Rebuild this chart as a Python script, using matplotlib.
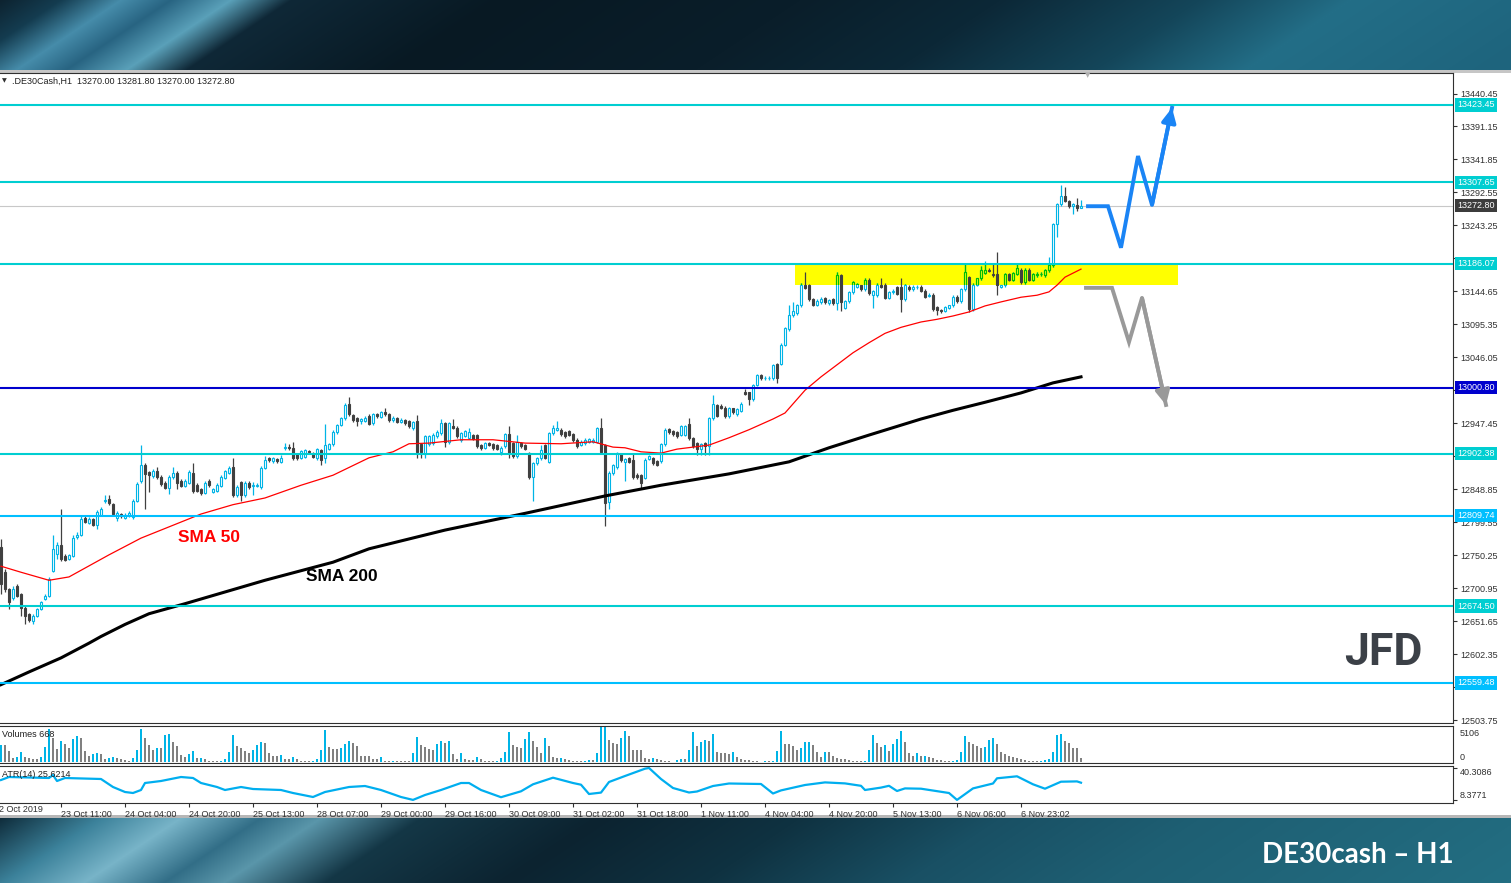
import numpy as np
import matplotlib
matplotlib.use("Agg")
import matplotlib.pyplot as plt
from matplotlib.patches import Rectangle
from matplotlib.transforms import blended_transform_factory

# ---------------- DATA ----------------
opens = [12762,12725,12700,12686,12705,12692,12672,12662,12652,12660,
12670,12685,12690,12727,12752,12766,12750,12745,12750,12777,
12781,12806,12799,12804,12795,12811,12832,12834,12827,12806,
12812,12806,12810,12807,12832,12861,12885,12875,12869,12876,
12867,12859,12851,12867,12874,12862,12854,12859,12874,12856,
12849,12844,12862,12845,12847,12854,12866,12874,12882,12840,
12860,12840,12859,12854,12854,12852,12881,12895,12891,12894,
12890,12910,12912,12910,12901,12896,12897,12906,12902,12895,
12907,12895,12909,12916,12934,12945,12955,12976,12960,12955,
12951,12951,12959,12948,12961,12957,12964,12961,12952,12955,
12950,12952,12951,12940,12951,12916,12901,12916,12918,12928,
12933,12948,12920,12944,12941,12923,12929,12926,12930,12930,
12915,12911,12918,12916,12915,12905,12913,12931,12918,12898,
12918,12915,12903,12868,12888,12895,12915,12890,12933,12938,
12938,12934,12936,12931,12923,12915,12918,12920,12920,12920,
12940,12915,12830,12873,12883,12901,12890,12895,12893,12871,
12870,12866,12894,12895,12891,12891,12916,12939,12936,12934,
12930,12930,12946,12925,12918,12909,12918,12913,12955,12975,
12973,12971,12959,12970,12961,12966,12995,12994,12984,13005,
13020,13015,13015,13015,13036,13036,13065,13089,13109,13112,
13124,13155,13154,13134,13125,13129,13135,13127,13134,13127,
13169,13120,13130,13144,13152,13154,13149,13162,13139,13139,
13155,13155,13135,13144,13151,13151,13134,13152,13149,13151,
13152,13146,13138,13140,13121,13117,13116,13120,13124,13137,
13130,13149,13166,13119,13155,13164,13172,13177,13171,13170,
13152,13154,13170,13162,13171,13177,13159,13177,13162,13169,
13170,13169,13176,13184,13245,13275,13287,13280,13272,13274,
13270.0]
highs = [12775,12730,12702,12705,12708,12694,12674,12664,12662,12672,
12682,12692,12718,12780,12770,12820,12752,12753,12780,12785,
12810,12810,12808,12806,12818,12823,12840,12840,12829,12816,
12814,12813,12816,12834,12860,12915,12888,12877,12880,12882,
12870,12862,12870,12882,12876,12864,12864,12878,12888,12858,
12851,12861,12864,12851,12858,12870,12878,12884,12895,12855,
12862,12862,12861,12860,12858,12884,12898,12897,12897,12896,
12900,12918,12916,12919,12903,12908,12909,12908,12904,12911,
12909,12947,12918,12937,12947,12957,12978,12987,12962,12957,
12956,12958,12961,12963,12963,12966,12970,12963,12958,12957,
12955,12954,12953,12951,12960,12918,12930,12930,12933,12938,
12954,12950,12950,12954,12943,12935,12938,12940,12932,12932,
12917,12920,12920,12918,12917,12913,12933,12944,12920,12930,
12920,12917,12905,12890,12897,12915,12917,12935,12945,12951,
12940,12936,12938,12933,12925,12922,12925,12926,12925,12942,
12955,12917,12876,12887,12905,12903,12896,12897,12902,12873,
12872,12895,12900,12897,12893,12918,12940,12941,12938,12936,
12945,12945,12955,12927,12919,12918,12920,12957,12990,12977,
12976,12973,12972,12971,12970,12979,12999,12995,13007,13022,
13021,13018,13018,13036,13038,13067,13092,13124,13129,13126,
13157,13174,13156,13135,13133,13136,13137,13134,13135,13174,
13170,13132,13145,13160,13158,13155,13164,13164,13147,13157,
13164,13157,13145,13148,13153,13165,13156,13154,13154,13154,
13154,13148,13142,13142,13123,13119,13123,13125,13139,13139,
13150,13186,13168,13157,13165,13182,13190,13179,13186,13204,
13155,13172,13172,13174,13185,13179,13179,13179,13172,13173,
13173,13178,13196,13247,13277,13304,13300,13282,13277,13284,
13281.8]
lows = [12692,12695,12670,12684,12688,12660,12648,12650,12648,12658,
12668,12683,12688,12725,12745,12742,12742,12743,12748,12775,
12779,12798,12797,12794,12790,12809,12828,12826,12810,12802,
12806,12804,12808,12805,12830,12859,12820,12845,12866,12864,
12854,12849,12842,12865,12850,12852,12852,12857,12844,12845,
12841,12842,12853,12843,12845,12852,12864,12872,12838,12838,
12831,12838,12850,12840,12852,12850,12879,12890,12889,12889,
12888,12908,12908,12893,12893,12894,12895,12902,12895,12893,
12885,12888,12907,12914,12932,12943,12953,12958,12950,12943,
12947,12949,12945,12945,12955,12955,12959,12950,12950,12948,
12948,12945,12940,12938,12895,12896,12895,12914,12915,12925,
12930,12912,12917,12939,12925,12920,12927,12924,12922,12910,
12908,12909,12913,12908,12907,12900,12910,12895,12895,12895,
12910,12907,12865,12831,12885,12893,12894,12888,12930,12936,
12929,12925,12928,12920,12910,12913,12915,12918,12918,12918,
12902,12794,12820,12870,12880,12890,12862,12888,12865,12865,
12850,12864,12892,12885,12884,12889,12914,12932,12929,12925,
12928,12928,12923,12910,12900,12900,12900,12900,12953,12957,
12969,12955,12956,12961,12959,12964,12990,12975,12981,13003,
13013,13013,13013,13013,13008,13034,13063,13086,13106,13110,
13121,13148,13131,13123,13123,13126,13126,13125,13125,13117,
13116,13118,13128,13141,13150,13146,13146,13140,13120,13136,
13150,13133,13133,13141,13139,13114,13131,13146,13146,13149,
13144,13135,13136,13116,13109,13113,13114,13118,13121,13128,
13128,13146,13114,13116,13153,13161,13170,13173,13166,13139,
13150,13151,13160,13160,13169,13156,13156,13160,13160,13166,
13167,13166,13174,13181,13226,13273,13278,13270,13261,13265,
13270.0]
closes = [12707,12700,12680,12700,12690,12672,12660,12654,12660,12670,
12680,12690,12715,12760,12766,12745,12744,12751,12776,12781,
12804,12800,12805,12796,12815,12820,12833,12828,12812,12814,
12810,12811,12814,12832,12857,12886,12872,12870,12876,12867,
12857,12851,12867,12874,12859,12854,12861,12875,12846,12847,
12844,12859,12855,12849,12856,12867,12876,12881,12840,12852,
12840,12859,12852,12856,12856,12881,12892,12892,12895,12891,
12896,12912,12910,12895,12895,12906,12907,12904,12897,12909,
12892,12915,12916,12935,12945,12955,12975,12961,12952,12951,
12954,12956,12947,12961,12958,12964,12961,12952,12956,12950,
12953,12948,12943,12949,12904,12904,12928,12928,12930,12935,
12948,12920,12948,12941,12928,12933,12936,12934,12924,12913,
12910,12918,12915,12910,12909,12911,12931,12903,12898,12920,
12913,12909,12868,12888,12895,12908,12896,12933,12940,12940,
12931,12928,12930,12923,12913,12920,12923,12924,12923,12940,
12904,12828,12874,12885,12903,12893,12894,12890,12868,12868,
12858,12893,12898,12888,12886,12916,12938,12934,12931,12928,
12943,12943,12925,12913,12909,12916,12913,12955,12976,12959,
12971,12959,12970,12964,12969,12977,12992,12984,13005,13020,
13015,13016,13016,13035,13016,13065,13090,13109,13115,13124,
13155,13150,13134,13125,13131,13134,13129,13132,13127,13169,
13129,13130,13144,13159,13156,13149,13162,13142,13145,13155,
13152,13135,13144,13146,13141,13134,13154,13149,13152,13152,
13146,13137,13140,13119,13117,13115,13121,13124,13137,13130,
13149,13174,13119,13155,13164,13176,13177,13175,13169,13154,
13154,13170,13162,13172,13180,13159,13177,13162,13170,13171,
13171,13176,13184,13245,13275,13287,13280,13272,13275,13270,
13272.8]

volumes = [3050,3050,2013,610,915,1708,793,610,549,549,
793,2745,5917,4270,2318,3782,3233,2440,4087,4697,
4270,1952,1098,1464,1586,1403,549,732,854,732,
488,305,183,610,2135,5978,4270,3050,2135,2562,
2562,4880,5002,3538,2867,1220,915,1342,1952,610,
732,427,183,183,122,183,488,1769,4880,2867,
2440,1952,1525,2135,3050,3660,3477,1525,1098,1098,
1220,488,427,793,427,183,122,122,183,488,
2135,5795,2745,2257,2257,2440,3233,3782,3355,2867,
1098,1098,1098,427,427,793,122,122,183,122,
122,122,122,1525,4575,3050,2745,2257,2135,3233,
3843,3355,3843,1403,488,1525,427,305,305,915,
427,122,61,61,183,610,1830,5490,3050,2623,
2440,4148,5368,3843,2623,1525,4270,2928,793,610,
671,488,305,183,122,61,122,305,305,1586,
6283,6466,3965,3355,3233,4270,5673,4636,2135,2135,
2135,610,488,671,488,366,61,61,30,244,
488,488,2135,5368,2928,3538,4026,3843,5063,1708,
1586,1525,1403,1708,793,488,366,366,61,61,
30,122,61,122,1891,5551,3233,3233,2806,2135,
2501,3538,3660,3050,1708,915,1708,1708,976,610,
488,488,305,183,122,61,183,2135,4941,3355,
2745,3050,2013,3233,4148,5551,3660,1586,976,1525,
976,1098,793,671,305,244,122,61,122,244,
1708,4636,3660,3233,2928,2440,2623,4026,4270,3233,
1830,1403,1098,793,610,488,366,183,122,61,
122,366,488,1708,4880,5063,3782,3416,2562,2562,
668]

atr_bars = [0,2,12,13,14,16,25,28,31,33,35,36,40,45,48,50,54,56,60,63,70,73,78,81,87,91,95,100,103,106,110,115,117,120,125,
            130,133,138,143,145,147,150,152,156,161,162,165,168,172,174,178,182,190,193,195,201,206,211,215,216,220,222,224,226,230,237,239,243,248,249,254,258,261,265,269,270]
atr_vals = [28.3,31.3,30.3,33.3,27.3,30.3,29.3,21.3,16.3,15.3,18.3,25.3,27.3,31.3,30.3,25.3,21.3,18.3,21.3,19.3,18.3,15.3,11.3,16.3,21.3,22.3,18.3,11.3,8.4,13.3,18.3,25.3,25.3,18.3,11.1,
            17.0,24.0,30.6,25.3,23.6,14.3,15.7,26.3,32.3,39.6,40.3,29.3,20.3,15.8,16.8,22.3,24.8,24.3,14.8,17.9,23.3,25.9,24.9,22.5,18.3,20.7,22.5,17.3,19.9,19.6,15.3,8.4,19.9,24.8,30.0,32.0,24.0,19.6,26.6,26.9,25.6]

sma50_bars = [0,5,12,17,27,35,50,58,66,75,83,92,98,102,107,115,123,131,140,148,153,156,160,165,169,173,177,182,187,193,196,201,205,209,213,217,221,225,230,234,238,242,246,250,255,259,262,264,266,270]
sma50_vals = [12734,12725,12713,12718,12751,12776,12812,12826,12836,12855,12870,12896,12905,12917,12918,12923,12923,12918,12917,12920,12912,12911,12905,12903,12909,12912,12915,12926,12938,12954,12963,12997,13017,13035,13053,13068,13082,13091,13099,13103,13108,13114,13123,13129,13136,13139,13144,13154,13166,13178]

sma200_bars = [0,7,15,22,25,31,37,46,66,83,92,111,131,151,165,182,197,207,217,230,238,246,255,263,270]
sma200_vals = [12557,12576,12597,12619,12629,12647,12663,12678,12713,12740,12760,12788,12813,12839,12855,12872,12890,12911,12930,12954,12967,12979,12993,13008,13017]

level_prices = [13423.45, 13307.65, 13186.07, 13000.80, 12902.38, 12809.74, 12674.50, 12559.48]
level_colors = ['#00CED1', '#00CED1', '#00CED1', '#0000CD', '#00CED1', '#00BFFF', '#00CED1', '#00BFFF']
last_price = 13272.80

axis_ticks = [13440.45, 13391.15, 13341.85, 13292.55, 13243.25, 13193.95, 13144.65, 13095.35, 13046.05,
              12996.75, 12947.45, 12898.15, 12848.85, 12799.55, 12750.25, 12700.95, 12651.65, 12602.35,
              12553.05, 12503.75]
hidden_ticks = [13193.95, 12996.75, 12898.15, 12553.05]

time_bars = [15, 31, 47, 63, 79, 95, 111, 127, 143, 159, 175, 191, 207, 223, 239, 255]
time_labels = ["23 Oct 11:00", "24 Oct 04:00", "24 Oct 20:00", "25 Oct 13:00", "28 Oct 07:00",
               "29 Oct 00:00", "29 Oct 16:00", "30 Oct 09:00", "31 Oct 02:00", "31 Oct 18:00",
               "1 Nov 11:00", "4 Nov 04:00", "4 Nov 20:00", "5 Nov 13:00", "6 Nov 06:00", "6 Nov 23:02"]

zone_bars = [198.5, 294.25]
zone_prices = [13155, 13185]

bull_path_bars = [271.75, 276.75, 280.0, 284.25, 287.75, 292.75]
bull_path_prices = [13272, 13272, 13210, 13347, 13274, 13419]
bear_path_bars = [271.25, 277.75, 282.0, 285.25, 291.25]
bear_path_prices = [13150, 13150, 13069, 13135, 12975]

# ---------------- FIGURE ----------------
W, H = 1511, 883
fig = plt.figure(figsize=(W / 100, H / 100), dpi=100)

bg = fig.add_axes([0, 0, 1, 1])
bg.axis('off')
img = np.ones((H, W, 3))
yy, xx = np.mgrid[0:H, 0:W]

def paint(y0, y1, stops, cols, slant):
    u = xx[y0:y1] + slant * (yy[y0:y1] - y0)
    for ch in range(3):
        img[y0:y1, :, ch] = np.interp(u, stops, [col[ch] / 255 for col in cols])

paint(0, 70, [0, 60, 120, 170, 230, 290, 500, 800, 1000, 1200, 1350, 1600],
      [(13, 35, 48), (20, 60, 80), (70, 140, 170), (40, 100, 130), (90, 160, 185), (15, 40, 55),
       (8, 25, 35), (10, 30, 42), (12, 40, 55), (20, 70, 90), (35, 110, 135), (30, 100, 125)], 1.5)
paint(818, 883, [0, 100, 180, 260, 320, 420, 600, 800, 1000, 1200, 1600],
      [(15, 45, 60), (60, 130, 155), (120, 180, 200), (50, 110, 135), (90, 150, 170), (20, 55, 70),
       (12, 35, 48), (15, 50, 65), (25, 80, 100), (30, 95, 115), (35, 110, 130)], 1.5)
img[70:73] = 0.78
img[815:818] = 0.72
bg.imshow(img, extent=[0, W, H, 0], aspect='auto', interpolation='bilinear')
bg.set_xlim(0, W)
bg.set_ylim(H, 0)

def rect(px_top, px_bot):
    return [0, 1 - px_bot / H, 1453 / W, (px_bot - px_top) / H]

FONT = 'Liberation Sans'
AXC = '#303030'
UPC = '#00B4E6'
DNC = '#404040'

# ---------------- main price panel ----------------
ax = fig.add_axes(rect(73, 723))
ax.set_facecolor('white')
nb = len(closes)
k = np.arange(nb)
o = np.array(opens, float); h = np.array(highs, float)
l = np.array(lows, float); c = np.array(closes, float)
up = c >= o
top = np.maximum(o, c); bot = np.minimum(o, c)

ax.add_patch(Rectangle((zone_bars[0], zone_prices[0]), zone_bars[1] - zone_bars[0],
                       zone_prices[1] - zone_prices[0], facecolor='#FFFF00', edgecolor='none', zorder=1))

def draw_candles(mask, color, face, clip=None, z=3):
    arts = []
    arts.append(ax.vlines(k[mask], top[mask], h[mask], color=color, lw=0.9, zorder=z))
    arts.append(ax.vlines(k[mask], l[mask], bot[mask], color=color, lw=0.9, zorder=z))
    hgt = np.maximum(top[mask] - bot[mask], 0.3)
    bars = ax.bar(k[mask], hgt, bottom=bot[mask], width=0.5, facecolor=face,
                  edgecolor=color, linewidth=0.8, zorder=z)
    arts.extend(bars.patches)
    if clip is not None:
        for a in arts:
            a.set_clip_path(clip)
    return arts

draw_candles(~up, DNC, DNC)
draw_candles(up, UPC, 'none')
clip_rect = Rectangle((zone_bars[0], zone_prices[0]), zone_bars[1] - zone_bars[0],
                      zone_prices[1] - zone_prices[0], transform=ax.transData, facecolor='none')
draw_candles(up, '#00C000', 'none', clip=clip_rect, z=3.5)

ax.plot(sma50_bars, sma50_vals, color='#FF0000', lw=0.9, zorder=4)
ax.plot(sma200_bars, sma200_vals, color='black', lw=2.2, zorder=4)

for p, col in zip(level_prices, level_colors):
    ax.axhline(p, color=col, lw=1.5, zorder=5)
ax.axhline(last_price, color='#C8C8C8', lw=0.8, zorder=2)

ax.plot(bull_path_bars, bull_path_prices, color='#1A84F5', lw=2.8, zorder=6, solid_joinstyle='miter')
ax.annotate('', xy=(bull_path_bars[-1], bull_path_prices[-1]),
            xytext=(bull_path_bars[-2], bull_path_prices[-2]),
            arrowprops=dict(arrowstyle='-|>,head_width=0.35,head_length=0.7', color='#1A84F5', lw=2.8,
                            mutation_scale=12, shrinkA=0, shrinkB=0), zorder=6)
ax.plot(bear_path_bars, bear_path_prices, color='#999999', lw=2.8, zorder=6, solid_joinstyle='miter')
ax.annotate('', xy=(bear_path_bars[-1], bear_path_prices[-1]),
            xytext=(bear_path_bars[-2], bear_path_prices[-2]),
            arrowprops=dict(arrowstyle='-|>,head_width=0.35,head_length=0.7', color='#999999', lw=2.8,
                            mutation_scale=12, shrinkA=0, shrinkB=0), zorder=6)

ax.text(52, 12777, 'SMA 50', color='#FF0000', fontsize=12.5, fontweight='bold', family=FONT,
        ha='center', va='center', zorder=7)
ax.text(85.25, 12718, 'SMA 200', color='black', fontsize=12.5, fontweight='bold', family=FONT,
        ha='center', va='center', zorder=7)

ax.set_xlim(-0.25, 363)
ax.set_ylim(12499.7, 13471.1)
ax.yaxis.tick_right()
ax.set_yticks(axis_ticks)
ax.set_yticklabels(["" if v in hidden_ticks else f"{v:.2f}" for v in axis_ticks], family=FONT)
ax.tick_params(axis='y', length=3, width=0.8, colors=AXC, labelsize=6.5, pad=2)
ax.set_xticks([])
ax.spines['left'].set_visible(False)
for s in ['right', 'top', 'bottom']:
    ax.spines[s].set_color(AXC)
    ax.spines[s].set_linewidth(0.8)

trans = blended_transform_factory(ax.transAxes, ax.transData)
for p, col in zip(level_prices, level_colors):
    ax.text(1.0 + 4 / 1453, p, f"{p:.2f}", transform=trans, ha='left', va='center', fontsize=6.5,
            family=FONT, color='white', zorder=10, clip_on=False,
            bbox=dict(boxstyle='square,pad=0.25', facecolor=col, edgecolor='none'))
ax.text(1.0 + 4 / 1453, last_price, f"{last_price:.2f}", transform=trans, ha='left', va='center',
        fontsize=6.5, family=FONT, color='white', zorder=10, clip_on=False,
        bbox=dict(boxstyle='square,pad=0.25', facecolor='#3C3C3C', edgecolor='none'))

fig.text(12 / W, 1 - 81 / H, ".DE30Cash,H1  %.2f %.2f %.2f %.2f" % (opens[-1], highs[-1], lows[-1], closes[-1]),
         fontsize=6.5, family=FONT, color='#202020', va='center', ha='left')
fig.text(4 / W, 1 - 81 / H, "\u25BC", fontsize=4.5, color='#303030', va='center', ha='center')
fig.text(1088 / W, 1 - 75 / H, "\u25BC", fontsize=5, color='#B0B0B0', va='center', ha='center')

fig.text(1383 / W, 1 - 653 / H, "JFD", fontsize=32, fontweight='bold', family='Roboto',
         color='#3B4047', ha='center', va='center')

# ---------------- volume panel ----------------
axv = fig.add_axes(rect(726, 763))
vol = np.array(volumes, float)
vcol = [UPC if (i == 0 or vol[i] > vol[i - 1]) else '#808080' for i in range(nb)]
axv.bar(k, vol, width=0.55, color=vcol, linewidth=0)
axv.set_xlim(-0.25, 363)
axv.set_ylim(-237, 6515)
axv.set_xticks([]); axv.set_yticks([])
axv.spines['left'].set_visible(False)
for s in ['right', 'top', 'bottom']:
    axv.spines[s].set_color(AXC); axv.spines[s].set_linewidth(0.8)
axv.text(2 / 1453, 0.78, "Volumes %d" % volumes[-1], transform=axv.transAxes, fontsize=6.5,
         family=FONT, color='#202020', va='center', ha='left')
axv.text(1 + 7 / 1453, 0.81, "5106", transform=axv.transAxes, fontsize=6.5, family=FONT,
         color=AXC, va='center', ha='left', clip_on=False)
axv.text(1 + 7 / 1453, 0.16, "0", transform=axv.transAxes, fontsize=6.5, family=FONT,
         color=AXC, va='center', ha='left', clip_on=False)

# ---------------- ATR panel ----------------
axa = fig.add_axes(rect(766, 803))
axa.plot(atr_bars, atr_vals, color='#00AEEF', lw=1.6)
axa.set_xlim(-0.25, 363)
axa.set_ylim(5.3, 42.3)
axa.yaxis.tick_right()
axa.set_yticks([40.3086, 8.3771])
axa.set_yticklabels(["40.3086", "8.3771"], family=FONT)
axa.get_yticklabels()[0].set_va('top')
axa.get_yticklabels()[1].set_va('bottom')
axa.tick_params(axis='y', length=3, width=0.8, colors=AXC, labelsize=6.5, pad=2)
axa.spines['left'].set_visible(False)
for s in ['right', 'top', 'bottom']:
    axa.spines[s].set_color(AXC); axa.spines[s].set_linewidth(0.8)
axa.text(2 / 1453, 0.78, "ATR(14) %.4f" % 25.6214, transform=axa.transAxes, fontsize=6.5,
         family=FONT, color='#202020', va='center', ha='left')
axa.set_xticks(time_bars)
axa.set_xticklabels(time_labels, family=FONT)
for t in axa.get_xticklabels():
    t.set_ha('left')
axa.tick_params(axis='x', length=3, width=0.8, colors=AXC, labelsize=6.5, pad=2)
axa.text(-1.75, -0.05, "22 Oct 2019", transform=blended_transform_factory(axa.transData, axa.transAxes),
         fontsize=6.5, family=FONT, color=AXC, ha='left', va='top', clip_on=False)

fig.text(1358 / W, 1 - 855 / H, "DE30cash \u2013 H1", fontsize=20, fontweight='bold', family='Lato',
         color='white', ha='center', va='center')

fig.savefig('out.png', dpi=100)
